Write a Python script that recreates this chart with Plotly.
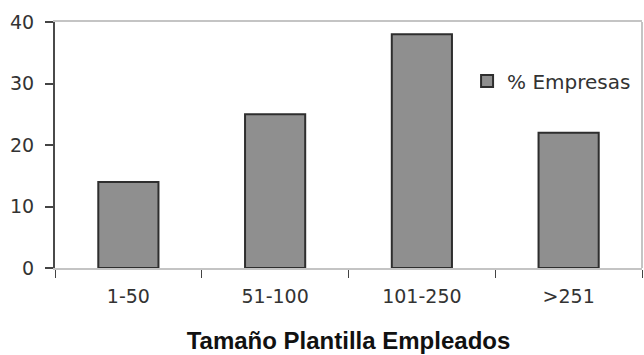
import plotly.graph_objects as go

# Company size bands and share of companies (%)
categories = ["1-50", "51-100", "101-250", ">251"]
pct_empresas = [14, 25, 38, 22]
series_name = "% Empresas"
y_ticks = [0, 10, 20, 30, 40]

fig = go.Figure()
fig.add_trace(go.Bar(
    x=categories,
    y=pct_empresas,
    name=series_name,
    width=0.41,
    marker=dict(color="#8f8f8f", line=dict(color="#2e2e2e", width=2)),
    showlegend=True,
))

tick_font = dict(family="DejaVu Sans", size=19, color="#333333")

fig.update_layout(
    width=644,
    height=355,
    margin=dict(l=55, r=2, t=22, b=87),
    paper_bgcolor="white",
    plot_bgcolor="white",
    showlegend=True,
    legend=dict(
        x=0.702, y=0.76, xanchor="left", yanchor="middle",
        font=dict(family="DejaVu Sans", size=20, color="#333333"),
        bgcolor="rgba(0,0,0,0)",
    ),
    xaxis=dict(
        type="category",
        showline=True, linecolor="#c4c4c4", linewidth=2, mirror=True,
        ticks="outside", tickson="boundaries", ticklen=8, tickcolor="#444444",
        tickwidth=1,
        tickfont=tick_font,
        ticklabelstandoff=10,
        showgrid=False,
        title=dict(
            text="Tamaño Plantilla Empleados",
            font=dict(family="Liberation Sans", size=24, color="#111111", weight="bold"),
            standoff=26,
        ),
    ),
    yaxis=dict(
        range=[0, 40],
        tickvals=y_ticks,
        showline=True, linecolor="#4a4a4a", linewidth=2,
        ticks="outside", ticklen=8, tickcolor="#444444", tickwidth=2,
        tickfont=tick_font,
        ticklabelstandoff=7,
        showgrid=False, zeroline=False,
    ),
    shapes=[
        dict(type="line", xref="paper", yref="paper", x0=1, x1=1, y0=0, y1=1,
             line=dict(color="#c4c4c4", width=2)),
    ],
)

fig.write_html("out.html")
